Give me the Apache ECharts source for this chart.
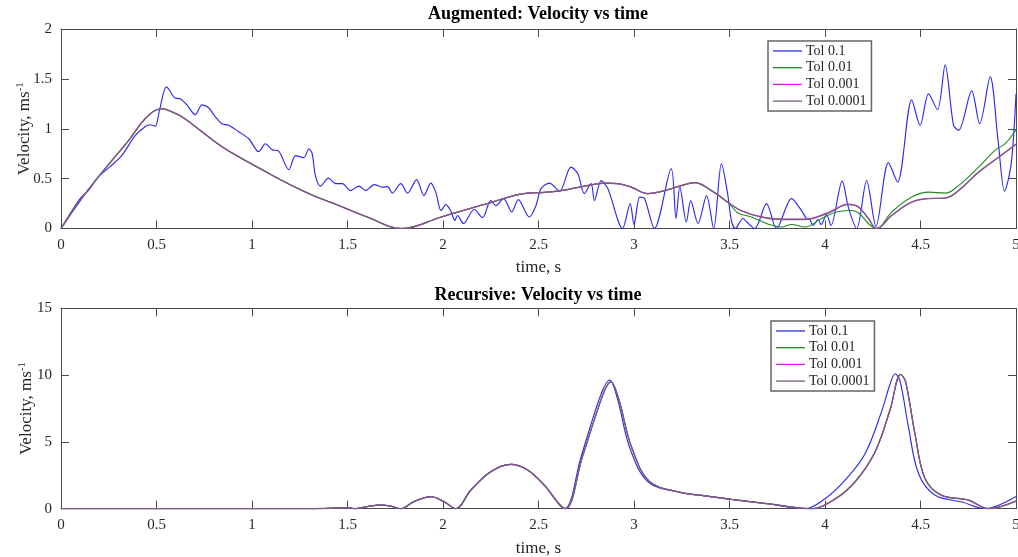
<!DOCTYPE html>
<html>
<head>
<meta charset="utf-8">
<script src="https://cdn.jsdelivr.net/npm/echarts@6/dist/echarts.min.js"></script>
<style>
html,body{margin:0;padding:0;background:#fff;}
#chart{width:1018px;height:557px;}
</style>
</head>
<body>
<div id="chart"></div>
<script>
// ---------- DATA ----------
const seriesNames = ['Tol 0.1', 'Tol 0.01', 'Tol 0.001', 'Tol 0.0001'];
const xTicks = ['0', '0.5', '1', '1.5', '2', '2.5', '3', '3.5', '4', '4.5', '5'];
const augYTicks = ['0', '0.5', '1', '1.5', '2'];
const recYTicks = ['0', '5', '10', '15'];

// Augmented, Tol 0.1
const augBlueT = [0, 0.10, 0.143, 0.196, 0.257, 0.318, 0.388, 0.44, 0.467, 0.493,
  0.516, 0.551, 0.563, 0.595, 0.624, 0.659, 0.703, 0.738, 0.773, 0.808,
  0.843, 0.878, 0.93, 0.983, 1.035, 1.07, 1.105, 1.14, 1.193, 1.228,
  1.271, 1.298, 1.315, 1.333, 1.359, 1.40, 1.437, 1.473, 1.516, 1.56,
  1.595, 1.64, 1.683, 1.71, 1.735, 1.779, 1.814, 1.862, 1.90, 1.936,
  1.962, 1.99, 2.015, 2.04, 2.062, 2.076, 2.107, 2.163, 2.207, 2.25,
  2.277, 2.317, 2.36, 2.394, 2.452, 2.487, 2.513, 2.557, 2.61, 2.67,
  2.706, 2.74, 2.775, 2.793, 2.828, 2.863, 2.94, 2.98, 3.00, 3.03,
  3.055, 3.107, 3.195, 3.22, 3.24, 3.274, 3.297, 3.335, 3.38, 3.417,
  3.458, 3.49, 3.51, 3.53, 3.571, 3.59, 3.632, 3.694, 3.746, 3.825,
  3.877, 3.903, 3.92, 3.938, 3.964, 3.98, 4.008, 4.031, 4.09, 4.122,
  4.166, 4.218, 4.267, 4.332, 4.38, 4.454, 4.498, 4.542, 4.589, 4.629,
  4.673, 4.70, 4.768, 4.81, 4.865, 4.906, 4.94, 4.975, 5.0];
const augBlueV = [0, 0.30, 0.38, 0.52, 0.62, 0.73, 0.93, 1.02, 1.04, 1.025,
  1.19, 1.42, 1.40, 1.31, 1.30, 1.24, 1.14, 1.24, 1.21, 1.12,
  1.05, 1.035, 0.97, 0.90, 0.77, 0.85, 0.79, 0.775, 0.59, 0.73,
  0.71, 0.80, 0.75, 0.52, 0.425, 0.505, 0.45, 0.45, 0.38, 0.425,
  0.38, 0.44, 0.415, 0.42, 0.355, 0.45, 0.355, 0.49, 0.33, 0.455,
  0.365, 0.18, 0.24, 0.18, 0.08, 0.13, 0.05, 0.19, 0.11, 0.28,
  0.23, 0.30, 0.165, 0.29, 0.115, 0.23, 0.40, 0.455, 0.375, 0.615,
  0.55, 0.35, 0.45, 0.28, 0.48, 0.40, 0, 0.25, 0.04, 0.315,
  0.30, 0, 0.60, 0.10, 0.415, 0.065, 0.28, 0.05, 0.33, 0,
  0.65, 0.35, 0.08, 0, 0.10, 0.065, 0, 0.25, 0, 0.30,
  0.18, 0.10, 0.09, 0.03, 0.09, 0.04, 0.14, 0.03, 0.475, 0.215,
  0, 0.48, 0.02, 0.66, 0.465, 1.29, 1.035, 1.35, 1.19, 1.64,
  1.035, 0.985, 1.38, 1.05, 1.52, 0.885, 0.375, 0.65, 1.35];

// Augmented, shared part of the tighter tolerances
const augCommonT = [0, 0.108, 0.231, 0.353, 0.44, 0.51, 0.537, 0.555, 0.633, 0.738,
  0.843, 0.948, 1.053, 1.158, 1.263, 1.333, 1.429, 1.604, 1.785, 1.99,
  2.233, 2.443, 2.513, 2.618, 2.74, 2.85, 2.915, 2.985, 3.073, 3.16,
  3.248, 3.317, 3.405, 3.493];
const augCommonV = [0, 0.30, 0.60, 0.88, 1.10, 1.196, 1.20, 1.19, 1.12, 0.97,
  0.82, 0.70, 0.59, 0.48, 0.38, 0.32, 0.25, 0.115, 0, 0.115,
  0.25, 0.355, 0.36, 0.38, 0.425, 0.455, 0.45, 0.415, 0.35, 0.38,
  0.43, 0.46, 0.38, 0.26];
// Augmented, Tol 0.01 after divergence
const augGreenT = [3.545, 3.615, 3.70, 3.772, 3.825, 3.895, 3.982, 4.07, 4.14, 4.18,
  4.227, 4.27, 4.349, 4.454, 4.542, 4.629, 4.699, 4.804, 4.891, 4.943, 5.0];
const augGreenV = [0.155, 0.115, 0.045, 0.015, 0.04, 0.015, 0.10, 0.17, 0.18, 0.15,
  0.05, 0, 0.165, 0.315, 0.365, 0.355, 0.43, 0.615, 0.785, 0.85, 0.99];
// Augmented, Tol 0.001 after divergence
const augMagentaT = [3.56, 3.667, 3.772, 3.895, 4.017, 4.122, 4.174, 4.227, 4.27, 4.349,
  4.454, 4.542, 4.629, 4.699, 4.804, 4.909, 5.0];
const augMagentaV = [0.18, 0.115, 0.095, 0.095, 0.16, 0.245, 0.22, 0.10, 0, 0.13,
  0.265, 0.30, 0.305, 0.38, 0.565, 0.715, 0.845];
// Augmented, Tol 0.0001 after divergence
const augPurpleT = [3.56, 3.667, 3.772, 3.895, 4.017, 4.122, 4.174, 4.227, 4.27, 4.349,
  4.454, 4.542, 4.629, 4.699, 4.804, 4.909, 5.0];
const augPurpleV = [0.18, 0.115, 0.09, 0.09, 0.155, 0.24, 0.215, 0.10, 0, 0.13,
  0.265, 0.30, 0.305, 0.38, 0.565, 0.715, 0.845];

// Recursive, Tol 0.1
const recBlueT = [0, 1.3, 1.45, 1.5, 1.54, 1.6, 1.674, 1.73, 1.779, 1.85,
  1.936, 2.006, 2.067, 2.146, 2.25, 2.356, 2.443, 2.53, 2.636, 2.723,
  2.793, 2.84, 2.872, 2.915, 2.976, 3.073, 3.248, 3.353, 3.51, 3.70,
  3.895, 4.0, 4.104, 4.209, 4.297, 4.34, 4.367, 4.393, 4.437, 4.49,
  4.577, 4.717, 4.839, 5.0];
const recBlueV = [0, 0, 0.05, 0.08, 0, 0.15, 0.28, 0.18, 0, 0.55,
  0.9, 0.52, 0, 1.40, 2.77, 3.32, 2.9, 1.77, 0, 3.9,
  7.14, 9.0, 9.63, 8.14, 4.64, 2.02, 1.2, 1.0, 0.70, 0.37,
  0, 0.75, 2.12, 4.1, 7.3, 9.3, 10.1, 9.55, 6.1, 2.62,
  1.0, 0.5, 0, 0.92];
// Recursive, tighter tolerances (overlapping)
const recOtherT = [0, 1.3, 1.45, 1.5, 1.54, 1.6, 1.674, 1.73, 1.779, 1.85,
  1.936, 2.006, 2.067, 2.146, 2.25, 2.356, 2.443, 2.53, 2.64, 2.728,
  2.8, 2.848, 2.879, 2.922, 2.985, 3.08, 3.248, 3.353, 3.51, 3.70,
  3.93, 4.052, 4.157, 4.262, 4.34, 4.396, 4.422, 4.471, 4.523, 4.61,
  4.75, 4.857, 5.0];
const recOtherV = [0, 0, 0.05, 0.08, 0, 0.15, 0.28, 0.18, 0, 0.55,
  0.9, 0.52, 0, 1.40, 2.77, 3.32, 2.9, 1.77, 0, 3.8,
  7.0, 8.9, 9.5, 8.1, 4.7, 2.05, 1.2, 1.0, 0.70, 0.37,
  0, 0.72, 2.0, 4.25, 7.37, 10.05, 9.5, 5.6, 2.27, 1.0,
  0.65, 0, 0.57];

// ---------- BUILD ----------
function zip(t, v) { return t.map((x, i) => [x, v[i]]); }
const colors = ['#2b2bef', '#1f8a1f', '#e020e0', '#76607f'];
const widths = [1.15, 1.1, 1.1, 1.35];
const FONT = '"Liberation Serif", "Times New Roman", serif';
const AX = '#4a4a4a';
const TXT = '#262626';

const grids = [
  { left: 61, right: 2, top: 29, height: 199.5, outerBoundsMode: 'none', containLabel: false },
  { left: 61, right: 2, top: 308.3, height: 200.4, outerBoundsMode: 'none', containLabel: false }
];

function xAxisMain(gi) {
  return {
    type: 'value', gridIndex: gi, min: 0, max: 5, interval: 0.5, position: 'bottom',
    name: 'time, s', nameLocation: 'middle', nameGap: 31,
    nameTextStyle: { fontFamily: FONT, fontSize: 17, color: TXT },
    axisLine: { show: true, onZero: false, lineStyle: { color: AX, width: 1 } },
    axisTick: { show: true, inside: true, length: 8, lineStyle: { color: AX } },
    axisLabel: { fontFamily: FONT, fontSize: 15, color: TXT, margin: 9,
      formatter: (v) => xTicks[Math.round(v * 2)] },
    splitLine: { show: false }
  };
}
function xAxisTop(gi) {
  return {
    type: 'value', gridIndex: gi, min: 0, max: 5, interval: 0.5, position: 'top',
    axisLine: { show: true, onZero: false, lineStyle: { color: AX, width: 1 } },
    axisTick: { show: true, inside: true, length: 8, lineStyle: { color: AX } },
    axisLabel: { show: false }, splitLine: { show: false }
  };
}
function yAxisMain(gi, max, interval, ticks, gap) {
  return {
    type: 'value', gridIndex: gi, min: 0, max: max, interval: interval, position: 'left',
    name: '{a|Velocity, ms}{b|-1}', nameLocation: 'middle', nameGap: gap, nameRotate: 90,
    nameMoveOverlap: false,
    nameTextStyle: {
      fontFamily: FONT, color: TXT,
      rich: {
        a: { fontFamily: FONT, fontSize: 17, color: TXT, lineHeight: 20 },
        b: { fontFamily: FONT, fontSize: 11, color: TXT, lineHeight: 11, verticalAlign: 'top' }
      }
    },
    axisLine: { show: true, onZero: false, lineStyle: { color: AX, width: 1 } },
    axisTick: { show: true, inside: true, length: 8, lineStyle: { color: AX } },
    axisLabel: { fontFamily: FONT, fontSize: 15, color: TXT, margin: 9,
      formatter: (v) => ticks[Math.round(v / interval)] },
    splitLine: { show: false }
  };
}
function yAxisRight(gi, max, interval) {
  return {
    type: 'value', gridIndex: gi, min: 0, max: max, interval: interval, position: 'right',
    axisLine: { show: true, onZero: false, lineStyle: { color: AX, width: 1 } },
    axisTick: { show: true, inside: true, length: 8, lineStyle: { color: AX } },
    axisLabel: { show: false }, splitLine: { show: false }
  };
}

function line(name, ci, data, xi, yi, smooth) {
  return {
    type: 'line', name: name, xAxisIndex: xi, yAxisIndex: yi, data: data,
    showSymbol: false, symbol: 'none', smooth: smooth, clip: true,
    lineStyle: { color: colors[ci], width: widths[ci] }, itemStyle: { color: colors[ci] },
    animation: false, silent: true
  };
}

const augGreen = zip(augCommonT.concat(augGreenT), augCommonV.concat(augGreenV));
const augMagenta = zip(augCommonT.concat(augMagentaT), augCommonV.concat(augMagentaV));
const augPurple = zip(augCommonT.concat(augPurpleT), augCommonV.concat(augPurpleV));

const legendBase = {
  orient: 'vertical', icon: 'rect', itemWidth: 29, itemHeight: 1.3, itemGap: 2.7,
  padding: [3, 5, 3, 5], borderColor: '#666', borderWidth: 1.5, backgroundColor: '#fff',
  textStyle: { fontFamily: FONT, fontSize: 14, color: TXT, lineHeight: 14, padding: [0, 0, 0, -1] },
  selectedMode: false, data: seriesNames
};

const option = {
  animation: false,
  backgroundColor: '#fff',
  title: [
    { text: 'Augmented: Velocity vs time', left: 538, top: 5, textAlign: 'center', padding: 0,
      textStyle: { fontFamily: FONT, fontSize: 18, fontWeight: 'bold', color: '#000' } },
    { text: 'Recursive: Velocity vs time', left: 538, top: 286, textAlign: 'center', padding: 0,
      textStyle: { fontFamily: FONT, fontSize: 18, fontWeight: 'bold', color: '#000' } }
  ],
  legend: [
    Object.assign({}, legendBase, { left: 768, top: 41 }),
    Object.assign({}, legendBase, { left: 771, top: 321 })
  ],
  grid: grids,
  xAxis: [xAxisMain(0), xAxisMain(1), xAxisTop(0), xAxisTop(1)],
  yAxis: [yAxisMain(0, 2, 0.5, augYTicks, 26), yAxisMain(1, 15, 5, recYTicks, 24),
          yAxisRight(0, 2, 0.5), yAxisRight(1, 15, 5)],
  series: [
    line(seriesNames[0], 0, zip(augBlueT, augBlueV), 0, 0, 0.3),
    line(seriesNames[1], 1, augGreen, 0, 0, 0.4),
    line(seriesNames[2], 2, augMagenta, 0, 0, 0.4),
    line(seriesNames[3], 3, augPurple, 0, 0, 0.4),
    line(seriesNames[0], 0, zip(recBlueT, recBlueV), 1, 1, 0.35),
    line(seriesNames[1], 1, zip(recOtherT, recOtherV), 1, 1, 0.35),
    line(seriesNames[2], 2, zip(recOtherT, recOtherV), 1, 1, 0.35),
    line(seriesNames[3], 3, zip(recOtherT, recOtherV), 1, 1, 0.35)
  ]
};

const chart = echarts.init(document.getElementById('chart'), null, { renderer: 'canvas' });
chart.setOption(option);
</script>
</body>
</html>
